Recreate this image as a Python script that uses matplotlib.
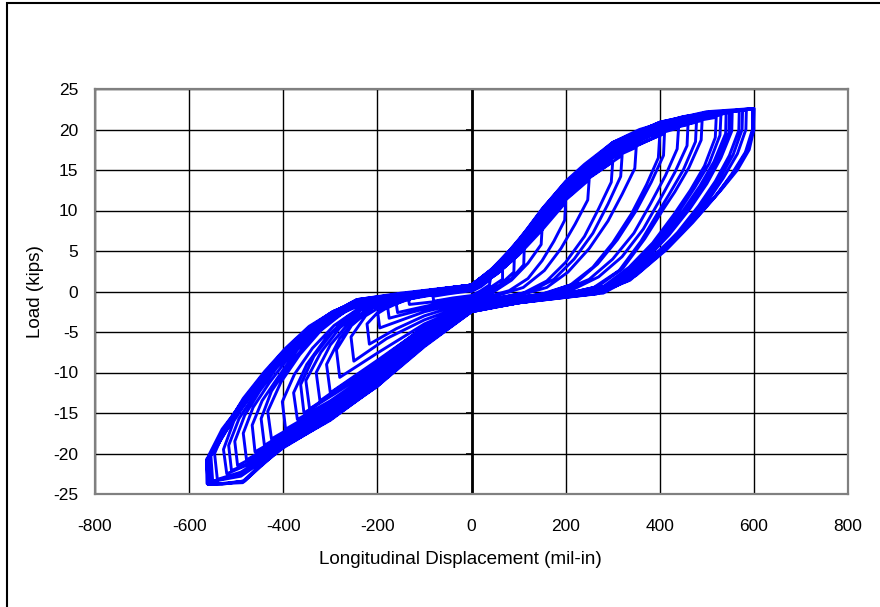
import matplotlib
matplotlib.use('Agg')
import matplotlib.pyplot as plt
import numpy as np
from matplotlib.patches import Rectangle

# load-displacement history, one list of (displacement, load) per cycle, in test order
cycle_01 = [(0, 0.0), (20, 0.6), (40, 1.5), (38, 0.8), (20, 0.1), (0, -0.5), (-40, -0.8), (-80, -1.2),
            (-82, -0.6), (-50, -0.3), (0, 0.1)]
cycle_02 = [(0, 0.1), (30, 1.2), (66, 3.1), (66, 1.5), (40, 0.5), (0, -0.7), (-70, -1.2), (-132, -1.6),
            (-134, -0.8), (-90, -0.4), (-40, -0.1), (0, 0.2)]
cycle_03 = [(0, 0.2), (45, 1.8), (91, 4.2), (90, 2.4), (60, 0.8), (20, -0.4), (0, -0.9), (-80, -1.6),
            (-157, -2.6), (-160, -1.5), (-120, -0.7), (-60, -0.2), (0, 0.3)]
cycle_04 = [(0, 0.3), (55, 2.2), (112, 5.2), (111, 3.3), (85, 1.6), (50, 0.2), (0, -1.0), (-90, -2.0),
            (-175, -3.3), (-178, -2.0), (-140, -1.0), (-80, -0.4), (0, 0.3)]
cycle_05 = [(0, 0.3), (70, 3.0), (150, 7.8), (148, 5.8), (120, 3.5), (85, 1.4), (40, -0.3), (0, -1.1),
            (-100, -2.5), (-195, -4.5), (-199, -2.7), (-160, -1.3), (-100, -0.5), (0, 0.4)]
cycle_06 = [(0, 0.4), (50, 2.0), (100, 4.5), (150, 7.6), (200, 11.0), (198, 8.8), (175, 6.2), (150, 3.8),
            (120, 1.6), (80, 0.1), (0, -1.2), (-100, -3.0), (-160, -4.6), (-217, -6.5), (-222, -4.0),
            (-190, -2.0), (-140, -0.9), (-70, -0.2), (0, 0.5)]
cycle_07 = [(0, 0.5), (50, 2.1), (100, 4.7), (150, 8.0), (200, 11.3), (250, 13.8), (247, 11.3), (220, 8.3),
            (190, 5.3), (155, 2.6), (110, 0.5), (50, -0.6), (0, -1.4), (-100, -3.5), (-180, -5.8),
            (-250, -8.6), (-256, -5.6), (-225, -3.0), (-180, -1.4), (-110, -0.5), (0, 0.5)]
cycle_08 = [(0, 0.5), (50, 2.2), (100, 4.8), (150, 8.1), (200, 11.4), (250, 14.0), (300, 16.0), (297, 13.5),
            (270, 10.2), (240, 6.8), (200, 3.6), (160, 1.3), (110, -0.2), (0, -1.5), (-100, -4.0),
            (-200, -7.6), (-280, -10.6), (-287, -7.2), (-255, -4.2), (-210, -2.0), (-150, -0.8),
            (-60, -0.1), (0, 0.5)]
cycle_08b = [(0, 0.5), (50, 2.2), (100, 4.8), (150, 8.1), (200, 11.5), (250, 14.1), (320, 16.8), (317, 14.2),
             (290, 10.8), (258, 7.2), (218, 4.0), (175, 1.5), (125, 0.0), (0, -1.5), (-100, -4.3),
             (-200, -8.7), (-280, -11.8), (-322, -13.5), (-330, -10.0), (-300, -6.6), (-258, -3.7),
             (-210, -1.8), (-150, -0.7), (-60, -0.1), (0, 0.5)]
cycle_09 = [(0, 0.6), (50, 2.3), (100, 4.8), (150, 8.2), (200, 11.6), (250, 14.3), (300, 16.5), (350, 17.8),
            (347, 15.2), (320, 12.0), (290, 8.7), (250, 5.3), (205, 2.4), (160, 0.5), (100, -0.5), (0, -1.6),
            (-100, -4.4), (-200, -8.5), (-300, -12.5), (-308, -9.0), (-280, -5.8), (-240, -3.0),
            (-195, -1.5), (-130, -0.6), (0, 0.5)]
cycle_10 = [(0, 0.6), (50, 2.3), (100, 4.8), (150, 8.2), (200, 11.6), (250, 14.3), (300, 16.6), (400, 19.3),
            (397, 16.5), (372, 13.2), (340, 9.6), (300, 6.0), (258, 3.0), (210, 0.8), (150, -0.3), (0, -1.7),
            (-100, -4.7), (-200, -9.0), (-280, -12.0), (-344, -14.5), (-352, -11.0), (-320, -7.5),
            (-280, -4.5), (-235, -2.3), (-180, -1.0), (-100, -0.3), (0, 0.6)]
cycle_10b = [(0, 0.6), (50, 2.3), (100, 4.9), (150, 8.3), (200, 11.7), (250, 14.4), (300, 16.8), (410, 19.5),
             (408, 16.8), (382, 13.5), (350, 10.0), (310, 6.4), (268, 3.4), (220, 1.0), (160, -0.2),
             (0, -1.7), (-100, -4.8), (-200, -9.2), (-290, -12.6), (-356, -15.0), (-363, -11.5),
             (-335, -8.0), (-295, -5.0), (-250, -2.6), (-195, -1.2), (-110, -0.3), (0, 0.6)]
cycle_11 = [(0, 0.6), (50, 2.4), (100, 5.0), (150, 8.5), (200, 12.0), (250, 14.7), (300, 17.1), (380, 19.2),
            (440, 20.2), (437, 17.6), (412, 14.3), (380, 10.8), (345, 7.2), (300, 4.0), (250, 1.5),
            (190, 0.0), (100, -0.8), (0, -1.8), (-100, -5.0), (-200, -9.5), (-300, -13.5), (-370, -15.8),
            (-378, -12.5), (-350, -9.0), (-310, -5.8), (-265, -3.2), (-215, -1.6), (-150, -0.6), (0, 0.6)]
cycle_11b = [(0, 0.6), (50, 2.4), (100, 5.1), (150, 8.6), (200, 12.1), (250, 14.8), (300, 17.2), (400, 19.8),
             (460, 20.6), (458, 18.0), (432, 14.7), (400, 11.3), (365, 7.7), (320, 4.3), (270, 1.8),
             (210, 0.1), (100, -0.8), (0, -1.8), (-100, -5.1), (-200, -9.7), (-300, -13.8), (-395, -17.0),
             (-402, -13.6), (-376, -10.2), (-338, -7.0), (-292, -4.2), (-240, -2.1), (-180, -0.9),
             (-100, -0.2), (0, 0.6)]
cycle_12 = [(0, 0.7), (50, 2.5), (100, 5.2), (150, 8.8), (200, 12.4), (250, 15.0), (300, 17.5), (400, 19.9),
            (478, 20.9), (476, 18.5), (450, 15.0), (420, 12.0), (399, 10.0), (360, 6.2), (314, 2.6),
            (260, 0.5), (200, -0.3), (100, -0.9), (0, -1.9), (-100, -5.2), (-200, -10.0), (-300, -14.0),
            (-425, -18.2), (-433, -14.8), (-405, -11.2), (-365, -7.8), (-320, -4.8), (-270, -2.5),
            (-210, -1.1), (-130, -0.4), (0, 0.7)]
cycle_12b = [(0, 0.7), (50, 2.5), (100, 5.3), (150, 8.9), (200, 12.5), (250, 15.1), (300, 17.6), (400, 20.0),
             (490, 21.1), (488, 18.7), (462, 15.3), (432, 12.3), (408, 10.2), (368, 6.5), (322, 2.9),
             (268, 0.6), (200, -0.3), (100, -1.0), (0, -2.0), (-100, -5.4), (-200, -10.2), (-300, -14.3),
             (-400, -17.6), (-440, -19.0), (-447, -15.7), (-425, -12.3), (-390, -9.3), (-345, -6.0),
             (-300, -3.6), (-250, -1.9), (-185, -0.8), (-100, -0.2), (0, 0.7)]
cycle_13 = [(0, 0.7), (50, 2.6), (100, 5.4), (150, 9.1), (200, 12.7), (250, 15.3), (300, 17.8), (400, 20.3),
            (520, 21.5), (518, 19.0), (495, 15.5), (465, 12.5), (430, 9.5), (385, 6.0), (335, 3.0),
            (280, 0.6), (200, -0.4), (100, -1.0), (0, -2.0), (-100, -5.5), (-200, -10.3), (-300, -14.5),
            (-400, -17.8), (-460, -19.8), (-466, -16.5), (-445, -13.5), (-410, -10.5), (-370, -7.2),
            (-325, -4.5), (-275, -2.3), (-210, -1.0), (-120, -0.3), (0, 0.7)]
cycle_13b = [(0, 0.7), (50, 2.6), (100, 5.5), (150, 9.2), (200, 12.8), (250, 15.4), (300, 17.9), (400, 20.4),
             (530, 21.8), (528, 19.3), (505, 15.8), (474, 12.8), (440, 9.8), (395, 6.3), (345, 3.2),
             (288, 0.7), (210, -0.4), (100, -1.1), (0, -2.1), (-100, -5.6), (-200, -10.5), (-300, -14.7),
             (-400, -18.1), (-478, -20.8), (-485, -17.5), (-464, -14.3), (-430, -11.3), (-392, -8.4),
             (-350, -5.6), (-302, -3.3), (-250, -1.7), (-190, -0.8), (-105, -0.2), (0, 0.7)]
cycle_14 = [(0, 0.7), (50, 2.7), (100, 5.6), (150, 9.4), (200, 13.0), (250, 15.5), (300, 18.0), (400, 20.5),
            (500, 21.6), (541, 22.0), (540, 19.5), (515, 16.0), (485, 13.0), (450, 10.0), (405, 6.5),
            (355, 3.5), (295, 0.8), (220, -0.4), (100, -1.1), (0, -2.1), (-100, -5.8), (-200, -10.7),
            (-300, -15.0), (-400, -18.5), (-497, -21.5), (-503, -18.5), (-482, -15.3), (-450, -12.3),
            (-415, -9.5), (-375, -6.8), (-330, -4.3), (-280, -2.2), (-220, -1.0), (-130, -0.3), (0, 0.7)]
cycle_14b = [(0, 0.7), (50, 2.8), (100, 5.7), (150, 9.5), (200, 13.1), (250, 15.6), (300, 18.0), (400, 20.5),
             (500, 21.7), (548, 22.1), (547, 19.6), (522, 16.2), (492, 13.1), (457, 10.1), (412, 6.7),
             (362, 3.7), (302, 0.9), (230, -0.4), (100, -1.2), (0, -2.2), (-100, -5.9), (-200, -10.8),
             (-300, -15.1), (-400, -18.6), (-480, -21.4), (-510, -22.1), (-516, -19.0), (-494, -15.7),
             (-460, -12.6), (-420, -9.6), (-378, -6.8), (-332, -4.3), (-282, -2.3), (-225, -1.0),
             (-135, -0.3), (0, 0.8)]
cycle_15 = [(0, 0.8), (50, 2.8), (100, 5.8), (150, 9.6), (200, 13.2), (250, 15.6), (300, 18.1), (400, 20.6),
            (500, 21.8), (554, 22.2), (553, 19.8), (530, 16.5), (500, 13.3), (465, 10.3), (420, 7.0),
            (370, 3.9), (310, 1.0), (240, -0.3), (100, -1.2), (0, -2.2), (-100, -6.0), (-200, -11.0),
            (-300, -15.3), (-400, -18.8), (-480, -21.5), (-520, -22.5), (-527, -19.5), (-505, -16.0),
            (-470, -12.8), (-425, -9.6), (-380, -6.6), (-335, -4.2), (-285, -2.3), (-230, -1.1),
            (-140, -0.3), (0, 0.8)]
cycle_16 = [(0, 0.8), (50, 2.9), (100, 6.0), (150, 9.8), (200, 13.3), (250, 15.7), (300, 18.2), (400, 20.7),
            (500, 21.9), (569, 22.3), (568, 19.9), (548, 16.8), (518, 13.6), (483, 10.6), (438, 7.3),
            (386, 4.2), (325, 1.2), (255, -0.3), (100, -1.3), (0, -2.3), (-100, -6.3), (-200, -11.3),
            (-300, -15.6), (-400, -19.0), (-490, -22.3), (-540, -23.2), (-546, -20.0), (-522, -16.8),
            (-485, -13.2), (-440, -9.9), (-395, -7.0), (-345, -4.3), (-292, -2.4), (-236, -1.1),
            (-145, -0.3), (0, 0.8)]
cycle_16b = [(0, 0.8), (50, 3.0), (100, 6.1), (150, 9.9), (200, 13.3), (250, 15.8), (300, 18.2), (400, 20.8),
             (500, 22.0), (576, 22.4), (575, 20.0), (556, 16.9), (526, 13.8), (491, 10.8), (446, 7.5),
             (393, 4.4), (331, 1.3), (260, -0.3), (100, -1.4), (0, -2.4), (-100, -6.4), (-200, -11.4),
             (-300, -15.7), (-400, -19.1), (-490, -22.6), (-550, -23.4), (-554, -20.1), (-527, -17.0),
             (-490, -13.8), (-446, -10.5), (-400, -7.4), (-348, -4.6), (-295, -2.5), (-238, -1.1),
             (-148, -0.3), (0, 0.8)]
cycle_17 = [(0, 0.8), (50, 3.0), (100, 6.1), (150, 10.0), (200, 13.4), (250, 15.8), (300, 18.3), (400, 20.8),
            (500, 22.0), (584, 22.4), (583, 20.0), (565, 17.0), (535, 14.0), (500, 11.0), (455, 7.8),
            (400, 4.6), (337, 1.4), (265, -0.3), (100, -1.4), (0, -2.4), (-100, -6.5), (-200, -11.5),
            (-300, -15.8), (-400, -19.2), (-490, -22.8), (-555, -23.5), (-558, -20.2), (-530, -17.0),
            (-493, -14.2), (-450, -11.0), (-405, -7.8), (-352, -4.8), (-298, -2.6), (-241, -1.1),
            (-150, -0.3), (0, 0.8)]
cycle_18 = [(0, 0.8), (50, 3.1), (100, 6.3), (150, 10.2), (200, 13.5), (250, 15.9), (300, 18.4), (400, 20.9),
            (500, 22.1), (597, 22.5), (597, 20.0), (582, 17.2), (553, 14.5), (515, 11.5), (470, 8.5),
            (415, 5.2), (350, 2.0), (280, -0.2), (200, -0.6), (100, -1.4), (0, -2.5), (-100, -6.7),
            (-200, -11.6), (-300, -15.9), (-400, -19.2), (-450, -21.5), (-485, -23.4), (-530, -23.8),
            (-562, -23.7), (-563, -20.8), (-550, -20.0), (-525, -17.5), (-497, -15.0), (-465, -12.5),
            (-435, -10.0), (-395, -7.3), (-350, -5.0), (-300, -2.8), (-244, -1.0), (-150, -0.3), (0, 0.8)]
cycle_18b = [(0, 0.8), (40, 2.5), (80, 4.9), (120, 7.6), (160, 10.6), (200, 13.4), (250, 16.0), (300, 18.3),
             (400, 20.9), (500, 22.2), (600, 22.6), (599, 20.0), (586, 17.4), (559, 14.8), (522, 12.0),
             (480, 9.3), (432, 6.4), (372, 3.3), (315, 0.9), (260, -0.3), (200, -0.6), (100, -1.4),
             (0, -2.5), (-100, -6.8), (-200, -11.7), (-300, -15.8), (-400, -19.3), (-450, -21.6),
             (-482, -23.4), (-530, -23.7), (-560, -23.8), (-562, -20.6), (-545, -19.5), (-520, -17.1),
             (-493, -14.7), (-462, -12.2), (-432, -9.8), (-392, -7.1), (-347, -4.9), (-298, -2.7),
             (-243, -1.0), (-150, -0.2), (0, 0.8)]
cycle_19 = [(0, 0.8), (40, 2.6), (80, 5.0), (120, 7.8), (155, 10.5), (200, 13.6), (240, 15.7), (300, 18.4),
            (357, 20.0), (450, 21.6), (550, 22.3), (600, 22.6), (600, 20.0), (590, 17.5), (565, 15.0),
            (530, 12.5), (490, 10.0), (445, 7.5), (398, 5.0), (345, 2.5), (285, 0.0), (200, -0.6),
            (100, -1.3), (0, -2.5), (-89, -5.9), (-153, -9.2), (-200, -11.7), (-300, -15.6), (-400, -19.1),
            (-486, -23.6), (-560, -23.8), (-562, -21.5)]

cycles = [cycle_01, cycle_02, cycle_03, cycle_04, cycle_05, cycle_06, cycle_07, cycle_08, cycle_08b,
          cycle_09, cycle_10, cycle_10b, cycle_11, cycle_11b, cycle_12, cycle_12b, cycle_13, cycle_13b,
          cycle_14, cycle_14b, cycle_15, cycle_16, cycle_16b, cycle_17, cycle_18, cycle_18b, cycle_19]

x_ticks = [-800, -600, -400, -200, 0, 200, 400, 600, 800]
y_ticks = [-25, -20, -15, -10, -5, 0, 5, 10, 15, 20, 25]

plt.rcParams['font.family'] = ['Liberation Sans', 'DejaVu Sans']
plt.rcParams['axes.unicode_minus'] = False

fig = plt.figure(figsize=(8.8, 6.07), dpi=100)
ax = fig.add_axes([95/880, 1-494/607, (848-95)/880, (494-89)/607])

hist = np.array([p for c in cycles for p in c])
ax.plot(hist[:, 0], hist[:, 1], color='#0000ff', lw=2.1, solid_joinstyle='round', zorder=3)

# y axis drawn through x = 0, Excel style
ax.axvline(0, color='black', lw=2, zorder=2)
ax.plot(np.zeros(len(y_ticks)), y_ticks, ls='none', marker=0, ms=4, mew=1.2, color='black',
        clip_on=False, zorder=2)

ax.set_xlim(-800, 800)
ax.set_ylim(-25, 25)
ax.set_xticks(x_ticks)
ax.set_yticks(y_ticks)
ax.grid(True, color='black', lw=1.0)
ax.set_axisbelow(True)
ax.tick_params(length=0, labelsize=12.5)
ax.tick_params(axis='x', pad=18)
ax.tick_params(axis='y', pad=12)
for s in ax.spines.values():
    s.set_color('#808080')
    s.set_linewidth(1.6)

ax.set_xlabel('Longitudinal Displacement (mil-in)', fontsize=13.6)
ax.set_ylabel('Load (kips)', fontsize=13.6)
ax.xaxis.set_label_coords((460 - 95) / 753, (494 - 551) / 405)
ax.yaxis.set_label_coords((44 - 95) / 753, 0.5)

fig.add_artist(Rectangle((7/880, -0.2), 1.3, 1.2 - 3/607, transform=fig.transFigure,
                         fill=False, edgecolor='black', lw=1.5))

fig.savefig('out.png', dpi=100)
